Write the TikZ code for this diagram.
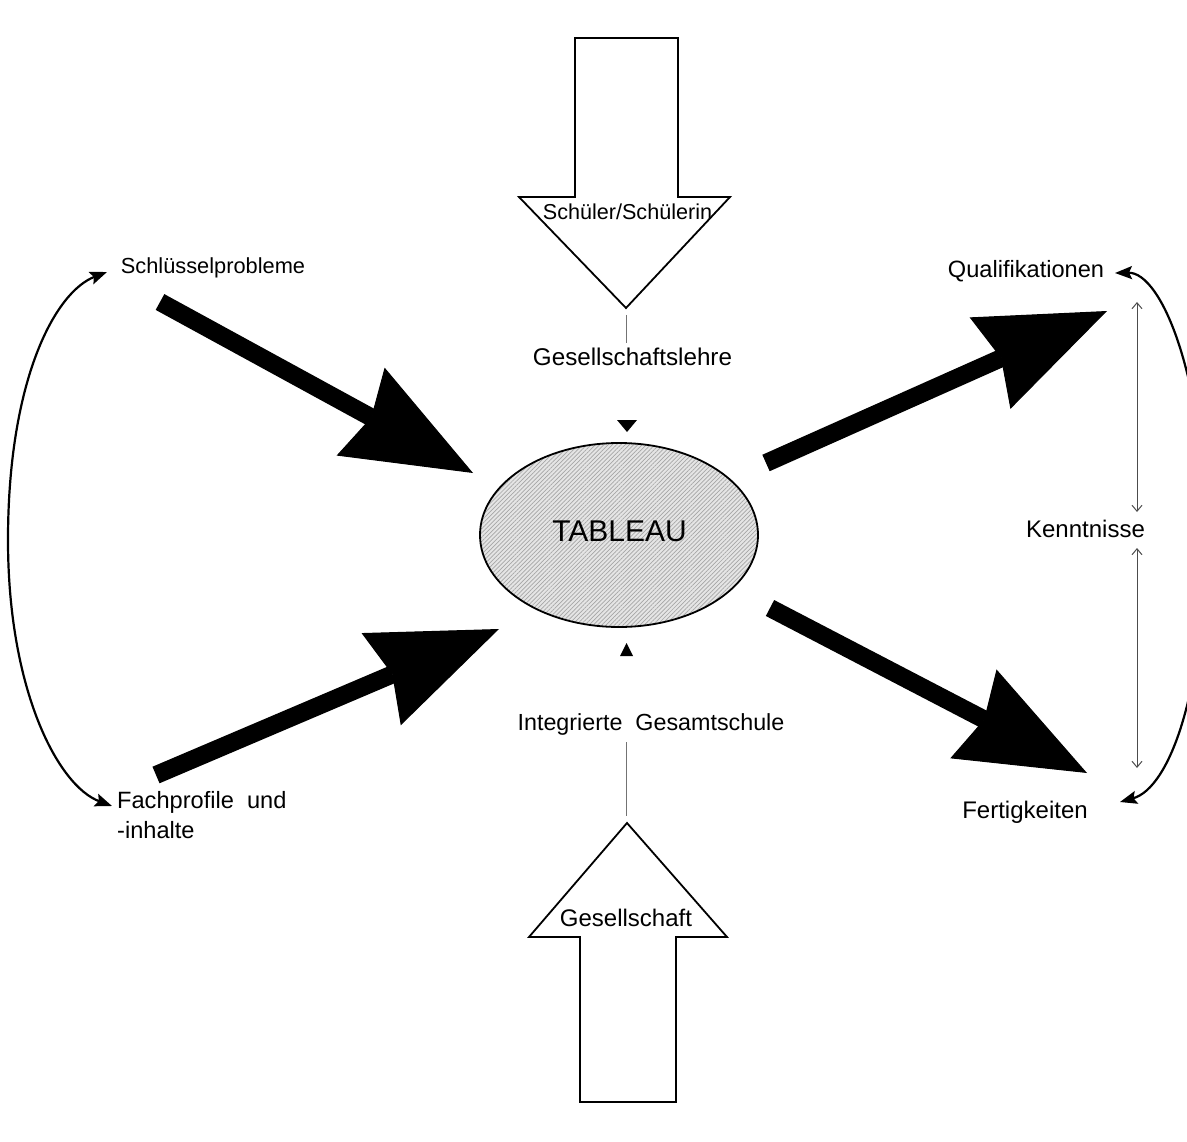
\documentclass[tikz,border=0pt]{standalone}
\usepackage{fontspec}
\setmainfont{Liberation Sans}
\usetikzlibrary{arrows.meta,patterns.meta,shapes.geometric}
\begin{document}
\begin{tikzpicture}[x=1pt,y=-1pt,
  lbl/.style={inner sep=0pt, anchor=base},
  fs/.style={font=\fontsize{#1}{30}\selectfont},
  blockarrow/.style={draw=black, line width=1.8pt, line join=miter, fill=white},
  bigarrow/.style={line width=18pt, -{Stealth[length=128pt,width=100pt,inset=12pt,line width=1pt]}},
  curvearrow/.style={line width=2.2pt, {Stealth[length=17pt,width=13pt,inset=3pt]}-{Stealth[length=17pt,width=13pt,inset=3pt]}},
  kennarrow/.style={draw=black!70, line width=1pt, {Straight Barb[length=6pt,width=10pt]}-{Straight Barb[length=6pt,width=10pt]}},
  tick/.style={draw=black!55, line width=1pt},
  marker/.style={fill=black}
]
\useasboundingbox (0,0) rectangle (1187,1142);

% block arrows
\draw[blockarrow] (575,38) -- (678,38) -- (678,197) -- (730,197) -- (626,308) -- (519,197) -- (575,197) -- cycle;
\draw[blockarrow] (580,1102) -- (676,1102) -- (676,937) -- (727,937) -- (627,823) -- (529,937) -- (580,937) -- cycle;

% texts
\node[lbl, fs=21.6] (schueler) at (627.5,220) {Schüler/Schülerin};
\node[lbl, fs=24.2] (gl) at (632.5,365) {Gesellschaftslehre};
\node[lbl, fs=23.3] (igs) at (651,730) {Integrierte\ \ Gesamtschule};
\node[lbl, fs=24] (ges) at (626,926.5) {Gesellschaft};
\node[lbl, fs=21.8] (schl) at (213,274) {Schlüsselprobleme};
\node[lbl, fs=23.6, anchor=base west] (fach1) at (117,808) {Fachprofile\ \ und};
\node[lbl, fs=23.6, anchor=base west] (fach2) at (117,838) {-inhalte};
\node[lbl, fs=23.6] (quali) at (1026,278) {Qualifikationen};
\node[lbl, fs=24] (kennt) at (1085.5,537) {Kenntnisse};
\node[lbl, fs=24] (fert) at (1025,818) {Fertigkeiten};

% ellipse
\node[ellipse, draw=black, line width=1.8pt, minimum width=278pt, minimum height=184pt,
      preaction={fill=gray!20},
      pattern={Lines[angle=45,distance=3pt,line width=0.7pt]}, pattern color=gray!70] (tab) at (619,535) {};
\node[lbl, fs=30] (tabtxt) at (619.5,541.5) {TABLEAU};

% small markers
\fill[marker] (617,420) -- (637,420) -- (627,432) -- cycle;
\fill[marker] (620,656) -- (633,656) -- (626.5,643) -- cycle;

% thin ticks
\coordinate (t1a) at (626,315);
\coordinate (t1b) at (626,343);
\coordinate (t2a) at (626,742);
\coordinate (t2b) at (626,816);
\draw[tick] (t1a) -- (t1b);
\draw[tick] (t2a) -- (t2b);

% big arrows
\coordinate (a1s) at (160,302); \coordinate (a1e) at (473,473);
\coordinate (a2s) at (156,775); \coordinate (a2e) at (499,629);
\coordinate (a3s) at (766,463); \coordinate (a3e) at (1107,311);
\coordinate (a4s) at (770,608); \coordinate (a4e) at (1087,773);
\draw[bigarrow] (a1s) -- (a1e);
\draw[bigarrow] (a2s) -- (a2e);
\draw[bigarrow] (a3s) -- (a3e);
\draw[bigarrow] (a4s) -- (a4e);

% curved arrows
\coordinate (cl1) at (107,272); \coordinate (cl2) at (112,806);
\draw[curvearrow] (cl1) .. controls (55,292) and (8,380) .. (8,540) .. controls (8,690) and (58,786) .. (cl2);
\coordinate (cr1) at (1115,273); \coordinate (cr2) at (1120,802);
\draw[curvearrow] (cr1) .. controls (1162,272) and (1205,380) .. (1205,535) .. controls (1205,690) and (1170,788) .. (cr2);

% Kenntnisse arrows
\coordinate (k1) at (1137,302); \coordinate (k2) at (1137,512);
\coordinate (k3) at (1137,548); \coordinate (k4) at (1137,768);
\draw[kennarrow] (k1) -- (k2);
\draw[kennarrow] (k3) -- (k4);
\end{tikzpicture}
\end{document}
